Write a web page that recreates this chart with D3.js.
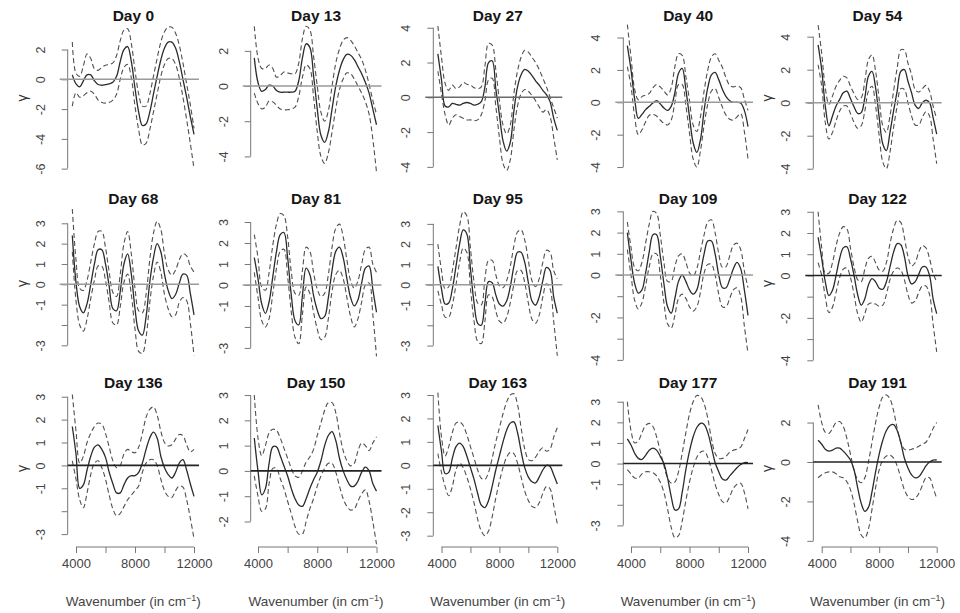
<!DOCTYPE html>
<html>
<head>
<meta charset="utf-8">
<script src="https://cdn.jsdelivr.net/npm/d3@7"></script>
<style>
  body { margin: 0; background: #fff; }
  svg { display: block; font-family: "Liberation Sans", Arial, sans-serif; }
</style>
</head>
<body>
<svg id="chart" width="960" height="613"></svg>
<script>
// wavenumber grid (cm^-1) shared by every panel
const wavenumbers = [3750, 4000, 4250, 4500, 4750, 5000, 5250, 5500, 5750, 6000, 6250, 6500, 6750, 7000, 7250, 7500, 7750,
  8000, 8250, 8500, 8750, 9000, 9250, 9500, 9750, 10000, 10250, 10500, 10750, 11000, 11250, 11500, 11750, 12000];

const days = [0, 13, 27, 40, 54, 68, 81, 95, 109, 122, 136, 150, 163, 177, 191];

// estimated gamma curve per day
const estimate = [
  [0.3, -0.3, -0.5, -0.1, 0.3, 0.3, -0.1, -0.35, -0.4, -0.35, -0.3, -0.2, 0.2, 1.2, 2.0, 2.2, 1.2, -0.6, -2.2, -3.1, -3.0, -2.2, -1.0, 0.2, 1.3, 2.1, 2.5, 2.5, 2.1, 1.2, 0.0, -1.2, -2.5, -3.7],
  [1.6, 0.2, -0.3, -0.2, 0.05, 0.0, -0.25, -0.35, -0.35, -0.35, -0.35, -0.3, 0.3, 1.6, 2.4, 2.2, 0.6, -1.3, -2.8, -3.2, -2.6, -1.3, 0.0, 0.9, 1.5, 1.8, 1.75, 1.5, 1.1, 0.7, 0.2, -0.4, -1.3, -2.2],
  [2.5, 1.0, -0.5, -0.55, -0.35, -0.4, -0.45, -0.35, -0.3, -0.35, -0.45, -0.4, -0.25, 0.6, 2.0, 2.1, 0.5, -1.0, -2.5, -3.1, -2.6, -0.8, 0.6, 1.3, 1.6, 1.5, 1.25, 0.95, 0.7, 0.4, 0.15, -0.25, -1.2, -1.9],
  [3.5, 2.0, 0.2, -1.0, -0.75, -0.45, -0.25, -0.05, 0.1, -0.1, -0.35, -0.5, -0.25, 0.6, 1.8, 2.1, 0.8, -0.9, -2.5, -3.1, -2.3, -0.5, 0.9, 1.7, 1.85, 1.4, 0.8, 0.35, 0.1, 0.0, 0.0, -0.05, -0.5, -1.5],
  [3.5, 2.0, -0.2, -1.4, -0.8, -0.2, 0.2, 0.6, 0.7, 0.25, -0.25, -0.65, -0.6, 0.3, 1.6, 1.9, 0.9, -0.9, -2.5, -2.9, -1.8, -0.5, 0.7, 1.9, 2.0, 1.3, 0.6, -0.15, -0.35, 0.0, 0.15, 0.0, -0.9, -1.9],
  [2.4, 0.1, -1.1, -1.4, -0.95, 0.0, 1.0, 1.7, 1.7, 1.0, -0.1, -1.2, -1.3, -0.35, 1.0, 1.5, 0.5, -1.2, -2.3, -2.5, -1.6, 0.1, 1.3, 2.0, 1.6, 0.5, -0.3, -0.7, -0.5, 0.05, 0.5, 0.45, -0.45, -1.5],
  [1.3, 0.3, -0.9, -1.35, -0.8, 0.4, 1.6, 2.4, 2.5, 1.3, -0.5, -1.7, -1.9, -0.5, 0.8, 0.5, -0.5, -1.2, -1.6, -1.5, -0.6, 0.7, 1.6, 1.8, 1.3, 0.3, -0.6, -1.0, -0.7, 0.1, 0.8, 0.9, -0.2, -1.3],
  [0.9, -0.2, -0.95, -0.9, -0.2, 0.9, 2.0, 2.7, 2.5, 0.8, -0.9, -1.9, -2.0, -0.9, 0.15, 0.1, -0.5, -0.95, -1.05, -0.8, -0.1, 0.9, 1.6, 1.6, 1.1, 0.1, -0.8, -1.0, -0.6, 0.2, 0.85, 0.7, -0.6, -1.4],
  [2.0, 0.7, -0.4, -0.85, -0.7, 0.1, 1.1, 1.9, 1.9, 0.9, -0.4, -1.5, -1.8, -1.1, -0.3, 0.0, -0.3, -0.7, -0.9, -0.7, 0.1, 1.0, 1.6, 1.6, 1.0, 0.0, -0.6, -0.6, -0.2, 0.3, 0.6, 0.3, -0.7, -1.9],
  [1.8, 0.8, -0.3, -0.95, -0.7, 0.0, 0.8, 1.3, 1.35, 0.8, 0.0, -0.9, -1.4, -1.1, -0.45, -0.15, -0.3, -0.6, -0.65, -0.3, 0.4, 1.1, 1.5, 1.45, 0.9, 0.0, -0.4, -0.3, 0.05, 0.4, 0.4, 0.0, -1.1, -1.8],
  [1.7, 0.5, -1.0, -0.85, -0.2, 0.4, 0.8, 0.9, 0.7, 0.35, -0.3, -0.8, -1.2, -1.2, -0.85, -0.55, -0.45, -0.45, -0.3, 0.1, 0.7, 1.2, 1.45, 1.2, 0.4, -0.1, -0.4, -0.55, -0.3, 0.1, 0.25, -0.2, -0.8, -1.35],
  [1.3, 0.0, -0.95, -0.7, 0.3, 0.95, 0.95, 0.6, 0.2, -0.2, -0.7, -1.1, -1.35, -1.4, -1.1, -0.7, -0.35, -0.05, 0.4, 1.0, 1.4, 1.55, 1.2, 0.5, 0.0, -0.35, -0.6, -0.6, -0.4, -0.05, 0.15, 0.0, -0.5, -0.8],
  [1.7, 0.6, -0.35, -0.3, 0.3, 0.8, 0.95, 0.8, 0.4, -0.1, -0.6, -1.2, -1.7, -1.8, -1.5, -0.9, -0.2, 0.4, 1.0, 1.5, 1.8, 1.85, 1.4, 0.6, -0.1, -0.5, -0.7, -0.75, -0.5, -0.2, 0.0, -0.05, -0.4, -0.8],
  [1.2, 0.9, 0.5, 0.25, 0.2, 0.4, 0.65, 0.75, 0.65, 0.35, 0.0, -0.7, -1.6, -2.25, -2.2, -1.4, -0.3, 0.6, 1.3, 1.75, 1.95, 1.9, 1.5, 0.8, 0.05, -0.4, -0.75, -0.8, -0.6, -0.4, -0.2, -0.05, 0.05, 0.05],
  [1.1, 0.9, 0.65, 0.55, 0.6, 0.7, 0.7, 0.55, 0.35, 0.1, -0.4, -1.3, -2.1, -2.5, -2.3, -1.5, -0.5, 0.4, 1.1, 1.6, 1.85, 1.9, 1.6, 1.0, 0.2, -0.3, -0.65, -0.8, -0.75, -0.5, -0.2, 0.0, 0.1, 0.1]
];

// upper band
const upper = [
  [2.5, 0.4, 0.2, 0.9, 1.7, 1.4, 0.7, 0.6, 0.8, 0.95, 1.0, 1.1, 1.6, 2.6, 3.3, 3.4, 2.4, 0.6, -1.0, -1.8, -1.8, -1.0, 0.2, 1.4, 2.5, 3.2, 3.5, 3.5, 3.1, 2.3, 1.1, -0.3, -1.7, -3.3],
  [3.4, 1.6, 1.0, 1.0, 1.2, 1.0, 0.5, 0.6, 0.8, 0.75, 0.7, 0.7, 1.3, 2.7, 3.4, 3.2, 1.7, 0.0, -1.5, -2.0, -1.4, 0.0, 1.3, 2.1, 2.6, 2.75, 2.6, 2.3, 1.9, 1.5, 0.9, 0.1, -0.8, -1.6],
  [4.1, 2.3, 0.8, 0.4, 0.7, 0.5, 0.6, 0.85, 0.75, 0.7, 0.55, 0.5, 0.6, 1.8, 3.1, 3.0, 1.6, -0.2, -1.6, -2.1, -1.6, 0.2, 1.5, 2.3, 2.7, 2.6, 2.3, 2.0, 1.6, 1.1, 0.6, 0.0, -0.6, -1.2],
  [4.8, 2.8, 0.8, 0.15, 0.35, 0.45, 0.55, 0.9, 1.1, 0.95, 0.7, 0.45, 0.9, 2.2, 3.0, 2.9, 1.6, 0.1, -1.4, -1.8, -0.9, 0.7, 2.0, 2.8, 3.0, 2.6, 2.15, 1.5, 1.05, 0.95, 1.0, 0.9, 0.2, -0.5],
  [4.7, 3.0, 0.9, -0.1, 0.4, 1.0, 1.35, 1.6, 1.5, 1.0, 0.55, 0.2, 0.3, 1.3, 2.6, 2.9, 1.9, 0.2, -1.4, -1.8, -0.8, 0.7, 2.1, 3.2, 3.2, 2.4, 1.7, 0.8, 0.65, 0.85, 1.05, 0.7, -0.2, -1.0],
  [3.7, 1.2, -0.2, -0.3, 0.2, 1.1, 2.0, 2.6, 2.6, 1.8, 0.6, -0.4, -0.6, 0.5, 2.0, 2.6, 1.5, -0.2, -1.3, -1.4, -0.5, 1.2, 2.5, 3.1, 2.7, 1.5, 0.7, 0.45, 0.7, 1.2, 1.5, 1.4, 0.9, 0.6],
  [2.4, 1.3, -0.1, -0.25, 0.6, 1.9, 2.9, 3.4, 3.3, 2.3, 0.6, -0.4, -0.5, 0.7, 1.8, 1.6, 0.6, -0.2, -0.55, -0.4, 0.5, 1.8, 2.7, 2.9, 2.3, 1.2, 0.2, -0.15, 0.2, 1.0, 1.7, 1.8, 1.0, 0.6],
  [2.0, 0.7, -0.2, -0.1, 0.7, 1.8, 2.9, 3.6, 3.4, 1.8, 0.1, -0.9, -1.0, 0.3, 1.2, 1.2, 0.5, -0.05, -0.15, 0.2, 0.9, 1.9, 2.6, 2.7, 2.2, 1.2, 0.2, -0.1, 0.3, 1.1, 1.7, 1.6, 0.7, 0.3],
  [2.5, 1.3, 0.35, 0.2, 0.6, 1.5, 2.4, 3.0, 2.9, 1.9, 0.6, -0.3, -0.3, 0.4, 0.9, 1.0, 0.6, 0.1, -0.05, 0.3, 1.1, 1.9, 2.5, 2.6, 2.0, 1.0, 0.35, 0.4, 0.9, 1.4, 1.5, 1.2, 0.2, -0.6],
  [3.0, 1.3, 0.1, 0.1, 0.6, 1.4, 2.0, 2.3, 2.2, 1.3, 0.4, -0.2, -0.3, 0.3, 0.8, 0.9, 0.6, 0.25, 0.2, 0.6, 1.5, 2.2, 2.6, 2.5, 1.8, 0.9, 0.45, 0.6, 1.1, 1.4, 1.3, 0.8, 0.1, -0.3],
  [3.1, 1.5, 0.1, 0.4, 1.0, 1.4, 1.7, 1.85, 1.8, 1.4, 0.8, 0.2, -0.1, 0.0, 0.5, 0.7, 0.6, 0.55, 0.8, 1.4, 2.1, 2.45, 2.55, 2.2, 1.5, 1.0, 0.85, 0.9, 1.15, 1.35, 1.3, 0.9, 0.6, 0.7],
  [3.0, 1.3, 0.6, 1.0, 1.5, 1.65, 1.6, 1.3, 0.9, 0.5, 0.1, -0.2, -0.25, 0.0, 0.35, 0.55, 0.85, 1.4, 1.9, 2.4, 2.7, 2.7, 2.3, 1.5, 0.8, 0.4, 0.2, 0.3, 0.8, 1.1, 1.0, 0.8, 1.1, 1.35],
  [3.1, 1.2, 0.4, 0.8, 1.4, 1.8, 1.85, 1.7, 1.3, 0.8, 0.3, -0.2, -0.55, -0.6, -0.3, 0.3, 1.0, 1.6, 2.2, 2.7, 3.0, 3.05, 2.6, 1.6, 0.7, 0.25, 0.2, 0.35, 0.6, 0.75, 0.6, 0.7, 1.2, 1.6],
  [3.0, 1.6, 1.0, 1.1, 1.5, 1.85, 1.95, 1.8, 1.3, 0.6, -0.1, -0.7, -0.95, -0.9, -0.4, 0.5, 1.5, 2.4, 3.0, 3.3, 3.25, 2.9, 2.2, 1.2, 0.5, 0.25, 0.25, 0.35, 0.55, 0.65, 0.7, 0.8, 1.2, 1.65],
  [2.9, 2.0, 1.5, 1.45, 1.7, 2.0, 2.05, 1.8, 1.2, 0.4, -0.4, -0.9, -1.05, -0.8, 0.0, 1.0, 2.0, 2.8, 3.3, 3.4, 3.2, 2.6, 1.7, 1.0, 0.65, 0.6, 0.65, 0.7, 0.8, 0.9, 1.0, 1.3, 1.7, 2.0]
];

// lower band
const lower = [
  [-1.8, -0.9, -1.2, -1.1, -0.9, -0.8, -1.0, -1.4, -1.55, -1.6, -1.55, -1.4, -1.0, 0.0, 0.8, 1.0, 0.1, -1.8, -3.4, -4.4, -4.3, -3.4, -2.2, -1.0, 0.2, 1.0, 1.4, 1.4, 1.0, 0.1, -1.2, -2.7, -4.3, -6.0],
  [-0.4, -1.0, -1.3, -1.2, -0.85, -0.9, -1.1, -1.3, -1.35, -1.35, -1.3, -1.2, -0.6, 0.5, 1.2, 1.0, -0.6, -2.6, -4.0, -4.4, -3.8, -2.6, -1.3, -0.2, 0.4, 0.75, 0.7, 0.4, 0.0, -0.4, -0.9, -1.6, -3.0, -4.9],
  [1.5, 0.2, -1.0, -1.6, -1.2, -1.0, -1.1, -1.2, -1.3, -1.3, -1.35, -1.3, -1.0, -0.2, 1.0, 1.1, -0.5, -2.3, -3.8, -4.2, -3.6, -1.9, -0.5, 0.2, 0.45, 0.35, 0.1, -0.2, -0.55, -0.85, -0.7, -1.1, -2.3, -3.6],
  [2.2, 1.0, -0.9, -2.0, -1.7, -1.2, -0.8, -0.75, -0.85, -1.1, -1.3, -1.4, -1.1, 0.0, 1.1, 1.1, -0.2, -1.9, -3.5, -4.0, -3.0, -1.4, -0.1, 0.7, 0.85, 0.3, -0.3, -0.8, -1.05, -1.1, -0.9, -0.7, -1.8, -3.5],
  [2.3, 1.0, -1.2, -2.2, -1.8, -1.1, -0.5, -0.2, -0.2, -0.65, -1.2, -1.55, -1.4, -0.5, 0.7, 1.0, -0.2, -2.0, -3.6, -4.0, -3.0, -1.5, -0.2, 0.85, 0.8, 0.0, -0.8, -1.35, -1.35, -0.9, -0.55, -0.8, -2.2, -3.7],
  [1.6, -0.8, -2.0, -2.3, -1.7, -0.7, 0.2, 0.9, 0.9, 0.2, -0.9, -1.9, -2.0, -1.1, 0.1, 0.5, -0.5, -2.2, -3.3, -3.4, -2.6, -0.9, 0.4, 1.1, 0.6, -0.5, -1.2, -1.6, -1.5, -0.9, -0.65, -0.8, -1.9, -3.5],
  [0.6, -0.6, -1.7, -2.0, -1.6, -0.4, 0.8, 1.6, 1.7, 0.4, -1.3, -2.5, -2.8, -1.4, -0.1, -0.4, -1.3, -2.1, -2.6, -2.5, -1.6, -0.3, 0.5, 0.7, 0.3, -0.6, -1.5, -2.0, -1.6, -0.8, 0.0, 0.1, -1.4, -3.4],
  [-0.3, -1.0, -1.6, -1.6, -1.0, 0.0, 1.1, 1.8, 1.6, -0.2, -1.8, -2.8, -2.9, -1.8, -0.5, -0.6, -1.3, -1.8, -1.9, -1.6, -0.9, 0.0, 0.7, 0.7, 0.1, -0.9, -1.7, -1.9, -1.5, -0.6, 0.05, -0.2, -1.8, -3.5],
  [1.2, 0.0, -1.2, -1.6, -1.3, -0.5, 0.4, 1.0, 1.0, 0.0, -1.3, -2.3, -2.5, -1.9, -1.1, -0.9, -1.1, -1.5, -1.7, -1.5, -0.8, 0.1, 0.5, 0.5, 0.0, -0.9, -1.5, -1.5, -1.1, -0.7, -0.6, -1.0, -2.4, -3.7],
  [0.6, 0.0, -1.0, -1.75, -1.5, -0.8, -0.1, 0.3, 0.35, -0.1, -0.9, -1.8, -2.2, -1.8, -1.35, -1.3, -1.35, -1.45, -1.4, -0.9, -0.2, 0.2, 0.35, 0.25, -0.2, -0.9, -1.3, -1.2, -0.8, -0.5, -0.5, -0.9, -2.3, -3.6],
  [0.2, -0.6, -1.5, -1.85, -1.2, -0.4, 0.1, 0.2, -0.1, -0.6, -1.3, -1.9, -2.2, -2.1, -1.8, -1.5, -1.3, -1.1, -0.9, -0.3, 0.1, 0.25, 0.25, 0.0, -0.6, -1.1, -1.35, -1.4, -1.1, -0.9, -0.95, -1.5, -2.3, -3.2],
  [-0.2, -1.0, -1.6, -1.5, -0.5, 0.1, 0.1, -0.3, -0.7, -1.2, -1.7, -2.2, -2.5, -2.5, -2.0, -1.5, -1.1, -0.6, -0.2, 0.1, 0.3, 0.3, -0.05, -0.6, -1.1, -1.4, -1.55, -1.5, -1.2, -0.9, -0.75, -1.2, -2.0, -2.9],
  [0.5, -0.3, -0.9, -1.3, -0.9, -0.2, 0.1, -0.1, -0.5, -1.0, -1.6, -2.3, -2.8, -3.0, -2.8, -2.2, -1.4, -0.7, -0.1, 0.35, 0.55, 0.5, 0.1, -0.5, -1.1, -1.5, -1.75, -1.8, -1.6, -1.2, -0.9, -1.0, -1.7, -2.5],
  [-0.3, -0.5, -0.7, -0.7, -0.5, -0.4, -0.4, -0.45, -0.6, -0.9, -1.4, -2.2, -3.1, -3.6, -3.5, -2.8, -1.8, -0.9, -0.2, 0.3, 0.55, 0.6, 0.3, -0.3, -1.0, -1.5, -1.85, -1.9, -1.6, -1.2, -1.0, -0.95, -1.4, -2.2],
  [-0.8, -0.65, -0.55, -0.5, -0.5, -0.6, -0.75, -0.8, -1.0, -1.4, -2.1, -3.0, -3.7, -3.85, -3.4, -2.4, -1.3, -0.4, 0.1, 0.3, 0.35, 0.2, -0.2, -0.8, -1.4, -1.75, -1.9, -1.85, -1.6, -1.2, -0.8, -0.8, -1.3, -1.85]
];

// y range of each panel and its ticks / printed tick labels
const yRange = [[-6.36, 3.85], [-5.0, 3.64], [-4.41, 4.33], [-4.43, 4.96], [-4.32, 4.89],
  [-3.82, 3.9], [-3.67, 3.81], [-3.81, 3.93], [-4.1, 3.3], [-4.08, 3.32],
  [-3.52, 3.25], [-2.97, 3.16], [-3.44, 3.17], [-4.0, 3.52], [-4.26, 3.6]];
const yTicks = [[-6, -4, -2, 0, 2], [-4, -2, 0, 2], [-4, -2, 0, 2, 4], [-4, -2, 0, 2, 4], [-4, -2, 0, 2, 4],
  [-3, -2, -1, 0, 1, 2, 3], [-3, -2, -1, 0, 1, 2, 3], [-3, -2, -1, 0, 1, 2, 3], [-4, -3, -2, -1, 0, 1, 2, 3], [-4, -3, -2, -1, 0, 1, 2, 3],
  [-3, -2, -1, 0, 1, 2, 3], [-2, -1, 0, 1, 2, 3], [-3, -2, -1, 0, 1, 2, 3], [-3, -2, -1, 0, 1, 2, 3], [-4, -2, 0, 2]];
const yLabels = [[-6, -4, -2, 0, 2], [-4, -2, 0, 2], [-4, -2, 0, 2, 4], [-4, -2, 0, 2, 4], [-4, -2, 0, 2, 4],
  [-3, -1, 0, 1, 2, 3], [-3, -1, 0, 1, 2, 3], [-3, -1, 0, 1, 2, 3], [-4, -2, 0, 1, 2, 3], [-4, -2, 0, 1, 2, 3],
  [-3, -1, 0, 1, 2, 3], [-2, -1, 0, 1, 2, 3], [-3, -2, -1, 0, 1, 2, 3], [-3, -1, 0, 1, 2, 3], [-4, -2, 0, 2]];
const xTicks = [4000, 6000, 8000, 10000, 12000];
const xLabels = [4000, 8000, 12000];

// layout
const axisX = [67.7, 250.7, 433.3, 623.3, 813.3];
const x4000 = [76, 258, 441.5, 631, 821.7];
const x12000 = [194, 376.5, 557.3, 748, 936.7];
const rowTop = [22, 205, 391];
const rowBottom = [174, 362, 546];
const titleY = [21, 204, 388];
const zeroExt = [8, 8, 0];
const zeroColor = ['#9a9a9a', '#9a9a9a', '#6a6a6a', '#9a9a9a', '#9a9a9a', '#9a9a9a', '#9a9a9a', '#9a9a9a', '#9a9a9a',
  '#222', '#222', '#222', '#222', '#222', '#222'];

const svg = d3.select('#chart');

days.forEach((day, i) => {
  const row = Math.floor(i / 5);
  const col = i % 5;
  const ax = axisX[col];

  const x = d3.scaleLinear().domain([4000, 12000]).range([x4000[col], x12000[col]]);
  const y = d3.scaleLinear().domain(yRange[i]).range([rowBottom[row], rowTop[row]]);

  const g = svg.append('g');

  // title
  g.append('text')
    .attr('x', (ax + x12000[col] + 5) / 2)
    .attr('y', titleY[row])
    .attr('text-anchor', 'middle')
    .attr('font-size', 15.5)
    .attr('font-weight', 'bold')
    .attr('fill', '#151515')
    .text(`Day ${day}`);

  // y axis (R style: line from first to last tick, rotated labels)
  const yAxis = d3.axisLeft(y)
    .tickValues(yTicks[i])
    .tickSize(6)
    .tickFormat((d) => (yLabels[i].includes(d) ? String(d) : ''));
  const ya = g.append('g')
    .attr('transform', `translate(${ax},0)`)
    .call(yAxis);
  ya.select('.domain').remove();
  ya.selectAll('line').attr('stroke', '#777');
  ya.selectAll('text')
    .attr('x', 0).attr('dy', 0)
    .attr('transform', 'translate(-23,0) rotate(-90)')
    .attr('text-anchor', 'middle')
    .attr('font-size', 12.5)
    .attr('font-family', '"Liberation Sans", Arial, sans-serif')
    .attr('fill', '#444');
  const ext = d3.extent(yTicks[i]);
  ya.append('line')
    .attr('x1', 0).attr('x2', 0)
    .attr('y1', y(ext[0])).attr('y2', y(ext[1]))
    .attr('stroke', '#777');

  if (col === 0 || col === 4) {
    g.append('text')
      .attr('transform', `translate(${ax - 46},${(rowTop[row] + rowBottom[row]) / 2}) rotate(-90)`)
      .attr('text-anchor', 'middle')
      .attr('dy', '0.35em')
      .attr('font-size', 14)
      .attr('fill', '#333')
      .text('γ');
  }

  // curves
  const line = d3.line()
    .x((d, k) => x(wavenumbers[k]))
    .y((d) => y(d))
    .curve(d3.curveCatmullRom.alpha(0.5));

  [upper[i], lower[i]].forEach((band) => {
    g.append('path')
      .attr('d', line(band))
      .attr('fill', 'none')
      .attr('stroke', '#505050')
      .attr('stroke-width', 1.1)
      .attr('stroke-dasharray', '5,3');
  });
  g.append('path')
    .attr('d', line(estimate[i]))
    .attr('fill', 'none')
    .attr('stroke', '#2b2b2b')
    .attr('stroke-width', 1.3);

  // zero reference line
  g.append('line')
    .attr('x1', ax - zeroExt[row]).attr('x2', x12000[col] + 5)
    .attr('y1', y(0)).attr('y2', y(0))
    .attr('stroke', zeroColor[i])
    .attr('stroke-width', 1.6);

  // x axis only on the bottom row
  if (row === 2) {
    const xAxis = d3.axisBottom(x)
      .tickValues(xTicks)
      .tickSize(6)
      .tickFormat((d) => (xLabels.includes(d) ? String(d) : ''));
    const xa = g.append('g')
      .attr('transform', 'translate(0,547)')
      .call(xAxis);
    xa.select('.domain').remove();
    xa.selectAll('line').attr('stroke', '#777');
    xa.selectAll('text')
      .attr('y', 21).attr('dy', 0)
      .attr('font-size', 13)
      .attr('font-family', '"Liberation Sans", Arial, sans-serif')
      .attr('fill', '#444');
    xa.append('line')
      .attr('x1', x(4000)).attr('x2', x(12000))
      .attr('stroke', '#777');

    const lab = g.append('text')
      .attr('x', (ax + x12000[col] + 5) / 2)
      .attr('y', 606)
      .attr('text-anchor', 'middle')
      .attr('font-size', 13.5)
      .attr('fill', '#444');
    lab.append('tspan').text('Wavenumber (in cm');
    lab.append('tspan').attr('dy', -5).attr('font-size', 9).text('−1');
    lab.append('tspan').attr('dy', 5).text(')');
  }
});
</script>
</body>
</html>
